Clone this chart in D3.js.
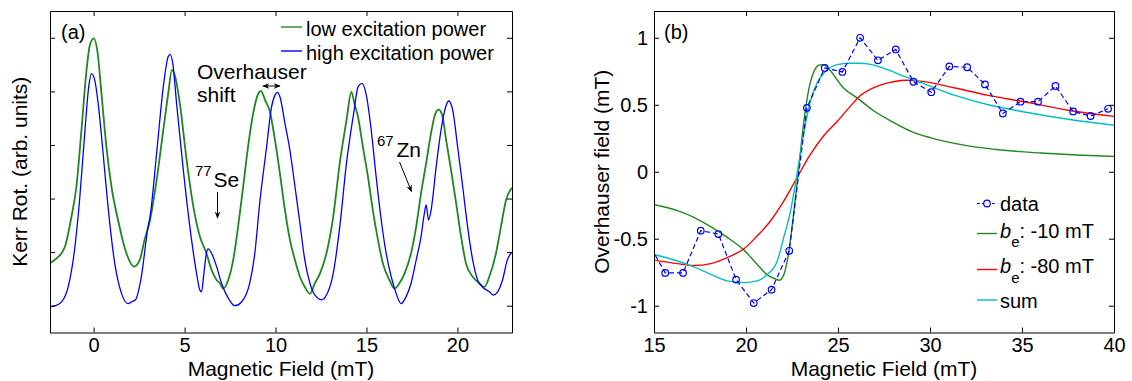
<!DOCTYPE html>
<html>
<head>
<meta charset="utf-8">
<script src="https://cdn.jsdelivr.net/npm/d3@7"></script>
<style>
  body { margin: 0; background: #fff; }
  svg { font-family: "Liberation Sans", Arial, Helvetica, sans-serif; }
</style>
</head>
<body>
<svg id="chart" width="1132" height="381"></svg>
<script>
// ---- panel (a): Kerr rotation vs field, [mT, arb. units] ----
const lowPower = [
  [-2.4, 0.80], [-2.2, 0.84], [-1.95, 0.91], [-1.58, 1.10], [-1.22, 1.66], [-0.95, 2.22],
  [-0.67, 3.28], [-0.39, 4.40], [-0.21, 4.86], [0.01, 4.99], [0.21, 4.74], [0.43, 3.96],
  [0.70, 2.97], [0.98, 2.22], [1.34, 1.60], [1.80, 0.98], [2.22, 0.73], [2.53, 0.85],
  [2.8, 1.23], [3.1, 1.60], [3.46, 2.34], [3.83, 3.28], [4.1, 3.96], [4.3, 4.40],
  [4.5, 4.25], [4.74, 3.77], [5.11, 2.72], [5.48, 1.85], [5.84, 1.29], [6.2, 0.98],
  [6.48, 0.67], [6.76, 0.48], [6.94, 0.42], [7.12, 0.32], [7.4, 0.48], [7.67, 0.85],
  [7.94, 1.47], [8.22, 2.22], [8.49, 2.97], [8.77, 3.59], [9.04, 3.95], [9.2, 4.01],
  [9.42, 3.84], [9.69, 3.62], [9.97, 3.09], [10.24, 2.47], [10.52, 1.78], [10.79, 1.23],
  [11.07, 0.85], [11.34, 0.54], [11.61, 0.35], [11.89, 0.22], [12.16, 0.42], [12.44, 0.60],
  [12.8, 0.98], [13.17, 1.66], [13.53, 2.66], [13.9, 3.46], [14.17, 3.99], [14.34, 3.77],
  [14.53, 3.53], [14.8, 2.97], [15.08, 2.41], [15.35, 1.78], [15.63, 1.23], [15.9, 0.79],
  [16.26, 0.48], [16.54, 0.32], [16.81, 0.42], [17.09, 0.60], [17.45, 0.98], [17.73, 1.47],
  [18.0, 2.10], [18.28, 2.66], [18.55, 3.22], [18.79, 3.59], [18.97, 3.66], [19.16, 3.56],
  [19.38, 3.09], [19.65, 2.53], [19.93, 1.91], [20.2, 1.29], [20.47, 0.79], [20.84, 0.54],
  [21.2, 0.42], [21.48, 0.35], [21.75, 0.54], [22.12, 0.98], [22.39, 1.47], [22.67, 1.97],
  [23.0, 2.2]
];
const highPower = [
  [-2.4, -0.02], [-2.1, 0.0], [-1.76, 0.07], [-1.40, 0.35], [-1.03, 1.10], [-0.76, 2.03],
  [-0.49, 3.22], [-0.27, 4.09], [-0.12, 4.33], [0.06, 4.21], [0.25, 3.77], [0.52, 2.84],
  [0.79, 1.85], [1.16, 0.79], [1.53, 0.23], [1.89, 0.04], [2.08, 0.07], [2.3, 0.11],
  [2.62, 0.54], [2.99, 1.47], [3.1, 1.66], [3.46, 2.84], [3.83, 4.09], [4.1, 4.65],
  [4.2, 4.69], [4.36, 4.50], [4.56, 3.77], [4.93, 2.53], [5.29, 1.47], [5.66, 0.60],
  [5.84, 0.29], [5.93, 0.26], [6.06, 0.60], [6.2, 0.98], [6.3, 1.06], [6.48, 0.98],
  [6.76, 0.73], [7.03, 0.42], [7.4, 0.14], [7.76, 0.0], [8.13, 0.07], [8.58, 0.42],
  [8.85, 0.95], [9.14, 1.95], [9.51, 2.97], [9.78, 3.71], [9.97, 3.93], [10.1, 3.98],
  [10.24, 3.90], [10.52, 3.40], [10.79, 2.90], [11.07, 2.22], [11.34, 1.54], [11.61, 0.85],
  [11.89, 0.42], [12.16, 0.20], [12.53, 0.11], [12.8, 0.20], [13.17, 0.60], [13.53, 1.47],
  [13.9, 2.66], [14.3, 3.60], [14.54, 4.09], [14.75, 4.15], [14.99, 3.93], [15.26, 3.28],
  [15.53, 2.41], [15.81, 1.60], [16.08, 0.98], [16.36, 0.54], [16.63, 0.23], [16.9, 0.04],
  [17.18, 0.17], [17.45, 0.42], [17.73, 0.85], [18.0, 1.29], [18.18, 1.72], [18.28, 1.88],
  [18.41, 1.60], [18.55, 1.78], [18.83, 2.59], [19.1, 3.28], [19.38, 3.74], [19.52, 3.82],
  [19.74, 3.65], [20.01, 2.97], [20.29, 2.22], [20.56, 1.47], [20.84, 0.85], [21.11, 0.48],
  [21.38, 0.35], [21.75, 0.26], [21.97, 0.20], [22.21, 0.26], [22.48, 0.48], [22.74, 0.85],
  [23.0, 1.0]
];
const fieldTicksA = [0, 5, 10, 15, 20];
const kerrTicks = [0, 1, 2, 3, 4, 5];

// ---- panel (b): Overhauser field vs field, [mT, mT] ----
const measured = [
  [14.64, -0.52], [15.61, -0.755], [16.58, -0.755], [17.54, -0.44], [18.5, -0.465],
  [19.46, -0.805], [20.42, -0.98], [21.39, -0.88], [22.35, -0.59], [23.31, 0.477],
  [24.28, 0.775], [25.24, 0.745], [26.2, 1.0], [27.17, 0.832], [28.14, 0.913],
  [29.1, 0.672], [30.07, 0.594], [31.05, 0.786], [32.02, 0.78], [32.99, 0.652],
  [33.96, 0.435], [34.92, 0.523], [35.87, 0.523], [36.82, 0.64], [37.78, 0.45],
  [38.73, 0.416], [39.68, 0.47]
];
const beMinus10 = [
  [15, -0.244], [16.27, -0.29], [17.17, -0.34], [18.08, -0.41], [18.98, -0.49],
  [19.89, -0.585], [20.6, -0.69], [21.16, -0.77], [21.6, -0.80], [21.8, -0.81],
  [22.05, -0.77], [22.3, -0.62], [22.6, -0.30], [22.86, 0.02], [23.15, 0.38],
  [23.42, 0.62], [23.7, 0.75], [23.95, 0.795], [24.2, 0.80], [24.47, 0.775],
  [24.75, 0.725], [25.3, 0.625], [26.0, 0.555], [27, 0.45], [28, 0.37], [29, 0.30],
  [30, 0.255], [32, 0.195], [34, 0.16], [36, 0.14], [38, 0.125], [40, 0.115]
];
const beMinus80 = [
  [15, -0.66], [16.27, -0.686], [17.17, -0.70], [18.08, -0.686], [18.98, -0.64],
  [19.89, -0.575], [20.6, -0.48], [21.33, -0.368], [22.05, -0.22], [22.77, -0.045],
  [23.5, 0.129], [24.2, 0.265], [24.96, 0.377], [25.68, 0.49], [26.14, 0.56],
  [26.83, 0.62], [27.73, 0.663], [28.64, 0.683], [29.55, 0.675], [31.36, 0.625],
  [33.17, 0.57], [34.98, 0.526], [37.6, 0.457], [40, 0.413]
];
const sumFit = [
  [15, -0.617], [16.27, -0.666], [17.17, -0.71], [18.08, -0.766], [18.98, -0.815],
  [19.89, -0.828], [20.6, -0.815], [21.16, -0.766], [21.7, -0.666], [22.05, -0.49],
  [22.41, -0.30], [22.77, -0.02], [23.15, 0.30], [23.5, 0.526], [23.86, 0.663],
  [24.32, 0.75], [24.96, 0.80], [25.68, 0.81], [26.14, 0.81], [26.83, 0.80],
  [27.73, 0.76], [28.64, 0.71], [29.55, 0.663], [31.36, 0.57], [33.17, 0.50],
  [34.98, 0.45], [37.6, 0.39], [40, 0.347]
];
const fieldTicksB = [15, 20, 25, 30, 35, 40];
const overTicks = [-1, -0.5, 0, 0.5, 1];

const svg = d3.select('#chart');
const plotTop = 11, plotBottom = 332.5;

svg.append('defs').append('marker')
  .attr('id', 'head')
  .attr('viewBox', '0 0 10 10')
  .attr('refX', 9).attr('refY', 5)
  .attr('markerWidth', 7).attr('markerHeight', 7)
  .attr('orient', 'auto-start-reverse')
  .append('path')
  .attr('d', 'M0,1 L10,5 L0,9 L3,5 Z')
  .attr('fill', '#000');

function drawFrame(g, x, y, xTicks, yTicks, yFormat) {
  const [x0, x1] = x.range();
  const [y0, y1] = y.range();
  g.append('g').attr('transform', `translate(0,${y0})`)
    .call(d3.axisBottom(x).tickValues(xTicks).tickSize(-5).tickSizeOuter(0).tickPadding(5).tickFormat(d => String(d)));
  g.append('g').attr('transform', `translate(0,${y1})`)
    .call(d3.axisTop(x).tickValues(xTicks).tickSize(-5).tickSizeOuter(0).tickFormat(''));
  g.append('g').attr('transform', `translate(${x0},0)`)
    .call(d3.axisLeft(y).tickValues(yTicks).tickSize(-5).tickSizeOuter(0).tickPadding(6).tickFormat(yFormat));
  g.append('g').attr('transform', `translate(${x1},0)`)
    .call(d3.axisRight(y).tickValues(yTicks).tickSize(-5).tickSizeOuter(0).tickFormat(''));
  g.selectAll('.domain').attr('stroke', '#000').attr('stroke-width', 1);
  g.selectAll('.tick line').attr('stroke', '#000').attr('stroke-width', 1);
  g.selectAll('.tick text').attr('font-size', 20).attr('fill', '#000')
    .attr('font-family', '"Liberation Sans", Arial, sans-serif');
}

function clipFor(id, x, y) {
  svg.select('defs').append('clipPath').attr('id', id)
    .append('rect')
    .attr('x', x.range()[0]).attr('y', y.range()[1])
    .attr('width', x.range()[1] - x.range()[0])
    .attr('height', y.range()[0] - y.range()[1]);
  return `url(#${id})`;
}

// ================= panel (a) =================
const xA = d3.scaleLinear().domain([-2.4, 23]).range([50, 512]);
const yA = d3.scaleLinear().domain([-0.5, 5.5]).range([plotBottom, plotTop]);
const gA = svg.append('g');
const lineA = d3.line().x(d => xA(d[0])).y(d => yA(d[1])).curve(d3.curveMonotoneX);
const plotA = gA.append('g').attr('clip-path', clipFor('clipA', xA, yA));

plotA.append('path').datum(lowPower).attr('d', lineA)
  .attr('fill', 'none').attr('stroke', '#1e881e').attr('stroke-width', 1.8);
plotA.append('path').datum(highPower).attr('d', lineA)
  .attr('fill', 'none').attr('stroke', '#0000ff').attr('stroke-width', 1.3);

drawFrame(gA, xA, yA, fieldTicksA, kerrTicks, '');

gA.append('text').attr('x', 281).attr('y', 376).attr('text-anchor', 'middle')
  .attr('font-size', 21).text('Magnetic Field (mT)');
gA.append('text').attr('transform', 'translate(27,171.75) rotate(-90)')
  .attr('text-anchor', 'middle').attr('font-size', 21).text('Kerr Rot. (arb. units)');
gA.append('text').attr('x', 61).attr('y', 38.5).attr('font-size', 20).text('(a)');

// legend (a)
const legendA = [
  { label: 'low excitation power', color: '#1e881e', y: 27 },
  { label: 'high excitation power', color: '#0000ff', y: 51 }
];
legendA.forEach(d => {
  gA.append('line').attr('x1', 281).attr('x2', 302).attr('y1', d.y).attr('y2', d.y)
    .attr('stroke', d.color).attr('stroke-width', 1.4);
  gA.append('text').attr('x', 306).attr('y', d.y + 9).attr('font-size', 20).text(d.label);
});

// annotations (a)
gA.append('text').attr('x', 197).attr('y', 79).attr('font-size', 21).text('Overhauser');
gA.append('text').attr('x', 197).attr('y', 101.5).attr('font-size', 21).text('shift');
gA.append('line').attr('x1', 263).attr('x2', 280).attr('y1', 86).attr('y2', 86)
  .attr('stroke', '#000').attr('stroke-width', 1)
  .attr('marker-start', 'url(#head)').attr('marker-end', 'url(#head)');

gA.append('text').attr('x', 195).attr('y', 175.5).attr('font-size', 15).text('77');
gA.append('text').attr('x', 213.5).attr('y', 186.5).attr('font-size', 21).text('Se');
gA.append('line').attr('x1', 217.5).attr('x2', 217.5).attr('y1', 192).attr('y2', 218)
  .attr('stroke', '#000').attr('stroke-width', 1).attr('marker-end', 'url(#head)');

gA.append('text').attr('x', 377).attr('y', 146).attr('font-size', 15).text('67');
gA.append('text').attr('x', 396.5).attr('y', 156.5).attr('font-size', 21).text('Zn');
gA.append('line').attr('x1', 399.5).attr('x2', 411.5).attr('y1', 162).attr('y2', 191.5)
  .attr('stroke', '#000').attr('stroke-width', 1).attr('marker-end', 'url(#head)');

// ================= panel (b) =================
const xB = d3.scaleLinear().domain([15, 40]).range([654, 1114]);
const yB = d3.scaleLinear().domain([-1.2, 1.2]).range([plotBottom, plotTop]);
const gB = svg.append('g');
const smoothB = d3.line().x(d => xB(d[0])).y(d => yB(d[1])).curve(d3.curveMonotoneX);
const straightB = d3.line().x(d => xB(d[0])).y(d => yB(d[1]));
const plotB = gB.append('g').attr('clip-path', clipFor('clipB', xB, yB));

plotB.append('path').datum(beMinus10).attr('d', smoothB)
  .attr('fill', 'none').attr('stroke', '#1e881e').attr('stroke-width', 1.4);
plotB.append('path').datum(beMinus80).attr('d', smoothB)
  .attr('fill', 'none').attr('stroke', '#ff0000').attr('stroke-width', 1.4);
plotB.append('path').datum(sumFit).attr('d', smoothB)
  .attr('fill', 'none').attr('stroke', '#00bfbf').attr('stroke-width', 1.4);
plotB.append('path').datum(measured).attr('d', straightB)
  .attr('fill', 'none').attr('stroke', '#0000ff').attr('stroke-width', 1.2)
  .attr('stroke-dasharray', '5,3');
plotB.selectAll('circle.pt').data(measured).enter().append('circle')
  .attr('class', 'pt')
  .attr('cx', d => xB(d[0])).attr('cy', d => yB(d[1])).attr('r', 3.3)
  .attr('fill', 'none').attr('stroke', '#0000ff').attr('stroke-width', 1.2);

drawFrame(gB, xB, yB, fieldTicksB, overTicks, d => String(d));

gB.append('text').attr('x', 884).attr('y', 376).attr('text-anchor', 'middle')
  .attr('font-size', 21).text('Magnetic Field (mT)');
gB.append('text').attr('transform', 'translate(609,171.75) rotate(-90)')
  .attr('text-anchor', 'middle').attr('font-size', 21).text('Overhauser field (mT)');
gB.append('text').attr('x', 664).attr('y', 38.5).attr('font-size', 20).text('(b)');

// legend (b)
const legendB = gB.append('g');
legendB.append('line').attr('x1', 977).attr('x2', 997).attr('y1', 203.5).attr('y2', 203.5)
  .attr('stroke', '#0000ff').attr('stroke-width', 1.2).attr('stroke-dasharray', '3,2');
legendB.append('circle').attr('cx', 987).attr('cy', 203.5).attr('r', 3.3)
  .attr('fill', '#fff').attr('stroke', '#0000ff').attr('stroke-width', 1.2);
legendB.append('text').attr('x', 1000).attr('y', 210.5).attr('font-size', 20).text('data');

const legendFits = [
  { value: '-10', color: '#1e881e', y: 233.5, base: 237.5 },
  { value: '-80', color: '#ff0000', y: 269.5, base: 273 }
];
legendFits.forEach(d => {
  legendB.append('line').attr('x1', 977).attr('x2', 997).attr('y1', d.y).attr('y2', d.y)
    .attr('stroke', d.color).attr('stroke-width', 1.4);
  const t = legendB.append('text').attr('x', 1000).attr('y', d.base).attr('font-size', 20);
  t.append('tspan').attr('font-style', 'italic').text('b');
  t.append('tspan').attr('dy', 9.5).attr('font-size', 15).text('e');
  t.append('tspan').attr('dy', -9.5).text(`: ${d.value} mT`);
});

legendB.append('line').attr('x1', 977).attr('x2', 997).attr('y1', 300).attr('y2', 300)
  .attr('stroke', '#00bfbf').attr('stroke-width', 1.4);
legendB.append('text').attr('x', 1000).attr('y', 308).attr('font-size', 20).text('sum');
</script>
</body>
</html>
